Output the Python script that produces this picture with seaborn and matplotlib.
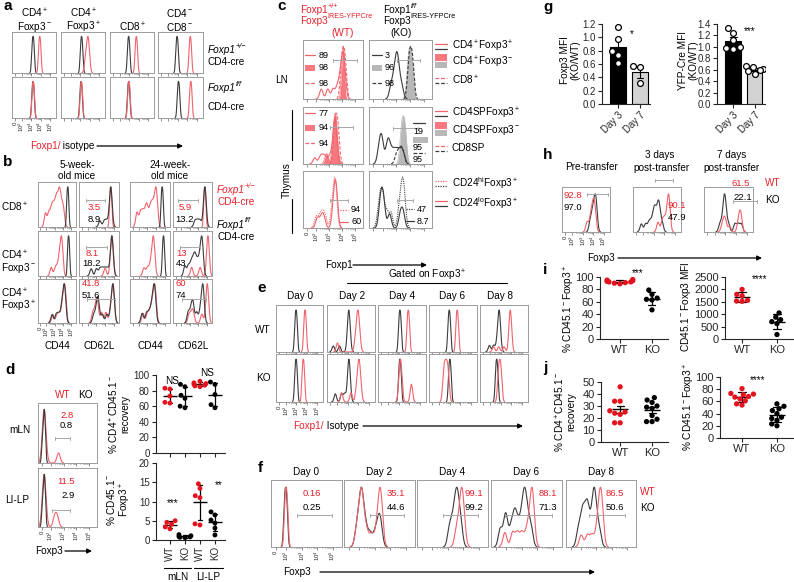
import numpy as np
import pandas as pd
import matplotlib
matplotlib.use("Agg")
import matplotlib.pyplot as plt
from matplotlib.patches import Rectangle
import seaborn as sns

sns.set_theme(style="ticks")
plt.rcParams["font.family"] = ["Liberation Sans", "DejaVu Sans"]
plt.rcParams["mathtext.fontset"] = "custom"
plt.rcParams["mathtext.rm"] = "Liberation Sans"
plt.rcParams["mathtext.it"] = "Liberation Sans:italic"
plt.rcParams["mathtext.bf"] = "Liberation Sans:bold"

W, H = 794, 582
RED = "#f0646c"
RED_TXT = "#e8202a"
DARK = "#3c3c3c"
FRAME = "#9c9c9c"
GATE = "#a8a8a8"
DOT_RED = "#e3121d"
FILL_RED = "#f8787f"
FILL_GREY = "#b8b8b8"

# flow histograms: events (log10 fluorescence)
# panel a, row-major (Foxp1+/- row, then Foxp1 f/f row)
a_iso = [
    [3.1, 3.2, 3.3], [3.05, 3.15, 3.25], [2.85, 2.95, 3.05], [2.85, 2.95, 3.05],
    [3.1, 3.2, 3.3], [3.0, 3.1, 3.2], [2.85, 2.95, 3.05], [3.0, 3.1, 3.2],
]
a_foxp1 = [
    [3.8, 3.9, 4.0], [3.55, 3.7, 3.8, 3.85, 3.95], [3.65, 3.75, 3.85], [4.2, 4.3, 4.4],
    [3.12, 3.22, 3.32], [3.03, 3.13, 3.23], [2.88, 2.98, 3.08], [4.25, 4.35, 4.45],
]

# panel b, rows CD8+, CD4+Foxp3-, CD4+Foxp3+ ; cols CD44, CD62L (5 wk), CD44, CD62L (24 wk)
b_red = [
    [1.9, 2.3, 2.6, 2.8, 3.0, 3.2, 3.3, 3.5, 3.6, 3.7, 3.9, 4.1],
    [4.55, 4.65, 4.75],
    [1.8, 2.2, 2.5, 2.8, 3.0, 3.3, 3.5, 3.7, 3.9, 4.0, 4.1],
    [4.65, 4.75, 4.85],
    [2.6, 3.1, 3.4, 3.6, 3.7, 3.8, 3.85, 3.9, 3.95],
    [4.0, 4.65, 4.75, 4.8, 4.85, 4.9, 4.75],
    [2.6, 3.0, 3.3, 3.5, 3.6, 3.65, 3.7, 3.75, 3.8],
    [3.2, 4.2, 5.05, 5.1, 5.15, 5.2, 5.1],
    [2.8, 3.3, 3.6, 3.9, 4.0, 4.1, 4.2, 4.25, 4.3, 4.35],
    [2.6, 2.9, 3.05, 3.15, 3.6, 4.1, 4.6, 4.8, 4.9, 4.95, 5.0],
    [2.5, 3.0, 3.3, 3.5, 3.65, 3.75, 3.85, 3.9, 3.95],
    [2.9, 3.2, 3.4, 4.4, 4.9, 5.0, 5.05, 5.1, 5.1],
]
b_black = [
    [4.5, 4.6, 4.7],
    [3.4, 3.9, 4.2, 4.55, 4.6, 4.65, 4.7, 4.75, 4.6, 4.7],
    [4.6, 4.7, 4.8],
    [3.6, 3.9, 4.2, 4.6, 4.7, 4.75, 4.8, 4.85, 4.75, 4.8],
    [4.6, 4.7, 4.8],
    [2.4, 3.0, 3.4, 3.7, 4.0, 4.3, 4.65, 4.75, 4.8, 4.85, 4.75, 4.8],
    [4.75, 4.85, 4.95],
    [2.4, 2.8, 3.1, 3.3, 3.5, 3.6, 3.8, 4.0, 4.2, 4.3, 4.4, 4.45, 4.5],
    [2.7, 3.2, 3.5, 3.8, 3.95, 4.05, 4.15, 4.2, 4.25, 4.3],
    [2.7, 3.0, 3.1, 3.2, 3.3, 3.7, 4.2, 4.6, 4.8, 4.85, 4.9, 4.95, 5.0],
    [2.4, 2.9, 3.2, 3.45, 3.6, 3.7, 3.8, 3.85, 3.9],
    [2.8, 3.1, 3.3, 3.4, 3.8, 4.2, 4.4, 4.5, 4.55, 4.6],
]

# panel c: LN and thymus SP rows = [Foxp3+ line, Foxp3- filled, CD8 dashed]; CD24 row = [hi dotted, lo solid]
c_wt = [
    [[2.4, 2.9, 3.3, 3.6, 3.8, 3.9, 4.0, 4.05, 4.1, 4.15, 4.2], [3.95, 4.05, 4.15, 4.1], [3.95, 4.1, 4.25]],
    [[1.9, 2.3, 2.5, 2.7, 3.0, 3.2, 3.35, 3.4, 3.45, 3.5, 3.55, 3.5, 3.45, 3.4],
     [2.8, 3.3, 3.4, 3.5, 3.6, 3.45, 3.5], [3.4, 3.55, 3.7]],
    [[2.0, 2.3, 2.5, 2.7, 3.2, 3.35, 3.4, 3.45, 3.5, 3.55], [2.1, 2.4, 2.6, 3.3, 3.4, 3.45, 3.5, 3.55, 3.6]],
]
c_ko = [
    [[2.6, 2.8, 2.9, 3.0, 3.05, 3.1, 3.2, 3.4], [3.85, 4.0, 4.15], [3.9, 4.05, 4.2]],
    [[1.7, 1.85, 1.9, 2.0, 2.3, 2.4, 2.5, 2.7, 2.9, 3.1, 3.3, 3.5], [3.35, 3.5, 3.65], [3.0, 3.2, 3.35, 3.5]],
    [[1.7, 1.85, 1.95, 2.05, 2.3, 2.6, 3.2, 3.35, 3.45, 3.5, 3.6], [1.8, 1.9, 2.0, 2.1, 2.5, 3.3, 3.5]],
]
c_wt_h = [[0.9, 1.0, 1.0], [0.9, 1.0, 1.0], [1.0, 0.95]]
c_ko_h = [[0.9, 1.0, 1.0], [0.6, 0.95, 0.35], [1.0, 0.8]]

# panel d histograms (mLN, LI-LP)
d_black = [[1.35, 1.45, 1.55, 1.5], [1.35, 1.45, 1.55, 1.5]]
d_red = [[1.38, 1.48, 1.58, 1.43, 1.53, 1.48, 2.6], [1.38, 1.48, 1.58, 1.43, 1.53, 1.48, 2.3, 2.5]]

# panel e: WT row Day 0..8, then KO row
e_iso = [
    [2.86, 2.96, 3.06],
    [1.6, 2.2, 3.0, 3.1, 3.2, 3.05, 3.15, 3.1, 3.0, 3.1],
    [3.0, 3.1, 3.2],
    [2.84, 2.94, 3.04],
    [1.9, 2.3, 2.6, 2.74, 2.84, 2.94, 2.8, 2.9, 2.85, 2.8],
    [2.86, 2.96, 3.06],
    [1.8, 2.4, 2.7, 3.0, 3.1, 3.2, 3.05, 3.15, 3.1],
    [3.0, 3.1, 3.2],
    [2.9, 3.0, 3.1],
    [2.5, 2.6, 2.7],
]
e_foxp1 = [
    [3.74, 3.84, 3.94],
    [2.0, 3.7, 3.85, 3.95, 4.05, 4.15, 4.0, 3.9],
    [3.8, 3.9, 4.0],
    [3.6, 3.7, 3.8],
    [2.3, 2.8, 3.3, 3.8, 3.9, 4.0, 3.85, 3.95, 3.9, 3.9, 3.95, 3.85],
    [3.57, 3.67, 3.77],
    [2.4, 3.3, 3.8, 3.95, 4.05, 4.15, 4.25, 4.1, 4.0],
    [3.05, 3.15, 3.25, 4.2],
    [2.4, 2.55, 2.7, 2.85],
    [2.75, 2.85, 2.95, 3.05],
]

# panel f, Day 0..8
f_black = [
    [1.85, 1.95, 2.05, 1.9, 2.0],
    [1.8, 1.95, 2.05, 2.1, 2.15, 2.2, 2.3, 2.45, 2.7, 3.0, 3.2, 3.3, 3.4],
    [3.1, 3.3, 3.45, 3.55, 3.6, 3.7, 3.85],
    [1.6, 1.9, 2.0, 2.3, 2.5, 2.6, 2.8, 3.0, 3.1, 3.2, 3.25, 3.4, 3.6],
    [1.8, 2.0, 2.1, 2.2, 2.35, 2.4, 2.5, 2.7, 2.8, 2.85, 2.9, 3.0, 3.2],
]
f_red = [
    [1.88, 1.98, 2.08, 1.93, 2.03],
    [1.8, 1.95, 2.05, 2.1, 2.15, 2.2, 2.3, 2.5, 2.8, 3.1, 3.25, 3.3, 3.35, 3.4, 3.45],
    [3.55, 3.75, 3.85, 3.9, 3.95, 4.05],
    [1.9, 2.4, 2.7, 3.0, 3.3, 3.5, 3.6, 3.65, 3.7, 3.75],
    [2.0, 2.4, 2.7, 3.0, 3.15, 3.2, 3.25, 3.3, 3.35, 3.4],
]

# panel h: pre-transfer, 3 days, 7 days
h_black = [
    [3.7, 3.9, 4.0, 4.1, 4.2, 4.25, 4.3],
    [1.8, 2.2, 2.5, 2.7, 2.9, 3.0, 3.1, 3.15, 3.3, 3.4, 3.45, 3.5, 3.6, 3.8],
    [2.5, 2.75, 2.85, 2.9, 2.95, 3.0, 3.05, 3.3, 3.9, 4.2, 4.5],
]
h_red = [
    [3.4, 3.7, 3.85, 3.95, 4.05, 4.1, 4.2],
    [3.4, 3.8, 4.0, 4.2, 4.35, 4.4, 4.45, 4.5],
    [2.7, 2.85, 2.95, 3.05, 3.4, 4.2, 4.3, 4.4, 4.45, 4.5],
]
h_black_h = [0.95, 0.8, 0.95]
h_red_h = [0.85, 0.95, 0.55]

# dot plots / bars
d_rec = [[83, 82, 73, 65, 64], [88, 85, 74, 70, 60, 58], [92, 90, 88, 87, 86, 85, 89], [91, 88, 75, 62, 58]]
d_foxp3 = [[5.0, 4.6, 4.1, 3.4, 2.9], [1.4, 1.1, 0.9, 0.8, 0.7, 0.6],
           [14.6, 13.4, 11.5, 11.0, 4.2, 3.9], [7.3, 6.5, 5.2, 4.4, 3.1, 1.3]]
g_foxp3 = [[1.16, 0.98, 0.79, 0.74, 0.62], [0.57, 0.56, 0.31]]
g_yfp = [[1.33, 1.25, 1.12, 1.0, 0.96, 0.98], [0.66, 0.65, 0.62, 0.6, 0.52, 0.57]]
i_pct = [[96, 95, 94, 93, 92, 91, 90, 92, 89], [79, 72, 66, 64, 63, 47]]
i_mfi = [[2000, 1800, 1740, 1560, 1520, 1530], [1050, 880, 780, 700, 620, 180]]
j_rec = [[46, 34, 34, 26, 25, 24, 23, 16, 16], [37, 35, 33, 30, 29, 28, 22, 19, 17, 17]]
j_pct = [[81, 73, 72, 71, 68, 67, 64, 61, 56, 54], [56, 52, 48, 45, 40, 34, 32, 29, 23, 20]]

fig = plt.figure(figsize=(W / 100, H / 100), dpi=100)

LO, HI = 1.0, 5.6
MAJOR = [1.3, 2, 3, 4, 5]
MINOR = [np.log10(m * 10 ** k) for k in (2, 3, 4) for m in range(2, 10)]


def rect(x0, y0, x1, y1):
    return [x0 / W, 1 - y1 / H, (x1 - x0) / W, (y1 - y0) / H]


def fbox(x0, y0, x1, y1, labels=False):
    ax = fig.add_axes(rect(x0, y0, x1, y1))
    for sp in ax.spines.values():
        sp.set_color(FRAME)
        sp.set_linewidth(0.7)
    ax.set_yticks([])
    ax.set_xticks(MAJOR)
    ax.set_xticks(MINOR, minor=True)
    ax.tick_params(axis="x", which="both", length=1.8, width=0.5, color="#666666",
                   pad=0.5, labelsize=4.3, labelrotation=90)
    ax.tick_params(axis="x", which="minor", length=1.0)
    ax.set_xticklabels(["0", "10$^2$", "10$^3$", "10$^4$", "10$^5$"] if labels else [])
    ax.set_xlim(LO, HI)
    ax.set_ylim(0, 1.12)
    return ax


def curve(ax, ev, color, ls="-", h=1.0, bw=0.13, fill=None, lw=0.8):
    sd = np.std(ev, ddof=1)
    width = min(bw, 0.8 * sd)
    sns.kdeplot(x=ev, ax=ax, bw_method=width / sd, clip=(LO, HI),
                gridsize=250, color=color, linestyle=ls, linewidth=lw)
    ln = ax.lines[-1]
    y = np.asarray(ln.get_ydata())
    ln.set_ydata(y / y.max() * h)
    if fill:
        ax.fill_between(ln.get_xdata(), ln.get_ydata(), color=fill, linewidth=0, zorder=1)
    ax.set_xlim(LO, HI)
    ax.set_ylim(0, 1.12)
    ax.set_xlabel("")
    ax.set_ylabel("")


# ---- a ----
a_cols = [(12, 56), (61, 105), (110, 154), (158, 203)]
a_rows = [(32, 73), (77, 118)]
for i in range(8):
    r, c = divmod(i, 4)
    ax = fbox(a_cols[c][0], a_rows[r][0], a_cols[c][1], a_rows[r][1], labels=(i == 4))
    curve(ax, a_iso[i], DARK)
    curve(ax, a_foxp1[i], RED)

# ---- b ----
b_cols = [(38, 76), (79, 119), (130, 170), (173, 212)]
b_rows = [(182, 227), (231, 276), (279, 323)]
for i in range(12):
    r, c = divmod(i, 4)
    ax = fbox(b_cols[c][0], b_rows[r][0], b_cols[c][1], b_rows[r][1], labels=(i == 8))
    curve(ax, b_red[i], RED, bw=0.15)
    curve(ax, b_black[i], DARK, bw=0.15)

# ---- c ----
c_cols = [(303, 363), (369, 432)]
c_rows = [(40, 99), (107, 164), (171, 228)]
DASH = (0, (3, 1.5))
DOT = (0, (1, 1))
for col, (cv, hts, lc, fc) in enumerate([(c_wt, c_wt_h, RED, FILL_RED), (c_ko, c_ko_h, DARK, FILL_GREY)]):
    for r in range(3):
        ax = fbox(c_cols[col][0], c_rows[r][0], c_cols[col][1], c_rows[r][1], labels=(r == 2 and col == 0))
        if r < 2:
            curve(ax, cv[r][1], fc, h=hts[r][1], fill=fc, lw=0.5)
            curve(ax, cv[r][0], lc, h=hts[r][0])
            curve(ax, cv[r][2], lc, ls=DASH, h=hts[r][2])
        else:
            curve(ax, cv[r][0], lc, ls=DOT, h=hts[r][0])
            curve(ax, cv[r][1], lc, h=hts[r][1])

# ---- d histograms ----
for k, (y0, y1) in enumerate([(403, 463), (468, 527)]):
    ax = fbox(38, y0, 97, y1, labels=(k == 1))
    curve(ax, d_red[k], RED)
    curve(ax, d_black[k], DARK)

# ---- e ----
e_cols = [(276, 323), (327, 375), (378, 426), (429, 477), (480, 528)]
e_rows = [(305, 352), (354, 402)]
for i in range(10):
    r, c = divmod(i, 5)
    ax = fbox(e_cols[c][0], e_rows[r][0], e_cols[c][1], e_rows[r][1], labels=(i == 5))
    curve(ax, e_iso[i], DARK, bw=0.12)
    curve(ax, e_foxp1[i], RED, bw=0.12)

# ---- f ----
f_cols = [(271, 342), (344, 415), (417, 488), (491, 562), (566, 636)]
for i in range(5):
    ax = fbox(f_cols[i][0], 480, f_cols[i][1], 547, labels=(i == 0))
    curve(ax, f_black[i], DARK)
    curve(ax, f_red[i], RED)

# ---- h ----
h_cols = [(562, 610), (633, 681), (704, 753)]
for i in range(3):
    ax = fbox(h_cols[i][0], 187, h_cols[i][1], 232, labels=(i == 0))
    curve(ax, h_black[i], DARK, h=h_black_h[i])
    curve(ax, h_red[i], RED, h=h_red_h[i])


# ---- dot plots ----
def sax(x0, y0, x1, y1, size=7):
    ax = fig.add_axes(rect(x0, y0, x1, y1))
    sns.despine(ax=ax)
    for sp in ("left", "bottom"):
        ax.spines[sp].set_linewidth(0.8)
    ax.tick_params(length=3, width=0.8, labelsize=size, pad=1.5)
    return ax


def dots(ax, groups, values, colors, err, size=3.8, msize=12):
    df = pd.DataFrame({"g": np.repeat(groups, [len(v) for v in values]),
                       "v": np.concatenate(values)})
    sns.swarmplot(data=df, x="g", y="v", hue="g", order=groups, hue_order=groups,
                  palette=dict(zip(groups, colors)), size=size, ax=ax, legend=False)
    sns.pointplot(data=df, x="g", y="v", order=groups, errorbar=err, color="black",
                  markers="_", markersize=msize, markeredgewidth=1.0, capsize=0.22,
                  linestyle="none", err_kws={"linewidth": 0.9}, ax=ax)
    ax.set_xlabel("")
    ax.set_ylabel("")


groups4 = ["WT_m", "KO_m", "WT_l", "KO_l"]
cols4 = [DOT_RED, "black", DOT_RED, "black"]
ax = sax(156, 375, 225, 453)
dots(ax, groups4, d_rec, cols4, "sd", size=3.5, msize=10)
ax.set_ylim(0, 100)
ax.set_yticks([0, 20, 40, 60, 80, 100])
ax.set_xlim(-0.93, 3.67)
ax.set_xticklabels([])

ax = sax(156, 463, 225, 540)
dots(ax, groups4, d_foxp3, cols4, "sd", size=3.5, msize=10)
ax.set_ylim(0, 20)
ax.set_yticks([0, 5, 10, 15, 20])
ax.set_xlim(-0.93, 3.67)
ax.set_xticks([0, 1, 2, 3])
ax.set_xticklabels(["WT", "KO", "WT", "KO"], rotation=90)


def bars(ax, vals):
    df = pd.DataFrame({"day": ["Day 3"] * len(vals[0]) + ["Day 7"] * len(vals[1]),
                       "v": vals[0] + vals[1]})
    sns.barplot(data=df, x="day", y="v", hue="day", palette=["black", "#d3d3d3"], errorbar="se",
                capsize=0.3, width=0.74, edgecolor="black", linewidth=0.8,
                err_kws={"color": "black", "linewidth": 0.8}, legend=False, ax=ax)
    sns.swarmplot(data=df, x="day", y="v", color="white", edgecolor="black", linewidth=0.9,
                  size=4.2, ax=ax)
    ax.set_xlabel("")
    ax.set_ylabel("")
    ax.set_xticks([0, 1])
    ax.set_xticklabels(["Day 3", "Day 7"], rotation=45, ha="right", rotation_mode="anchor")


ax = sax(602, 24, 650, 104)
bars(ax, g_foxp3)
ax.set_ylim(0, 1.2)
ax.set_yticks(np.arange(0, 1.21, 0.2))
ax.set_yticklabels(["0.0", "0.2", "0.4", "0.6", "0.8", "1.0", "1.2"])
ax.set_xlim(-0.73, 1.45)

ax = sax(717, 24, 765, 104)
bars(ax, g_yfp)
ax.set_ylim(0, 1.4)
ax.set_yticks(np.arange(0, 1.41, 0.2))
ax.set_yticklabels(["0.0", "0.2", "0.4", "0.6", "0.8", "1.0", "1.2", "1.4"])
ax.set_xlim(-0.77, 1.49)

wk = ["WT", "KO"]
wk_cols = [DOT_RED, "black"]
ax = sax(600, 277, 668, 339, size=8)
dots(ax, wk, i_pct, wk_cols, "sd")
ax.set_ylim(0, 100)
ax.set_yticks([0, 20, 40, 60, 80, 100])
ax.set_xlim(-0.62, 1.5)

ax = sax(725, 277, 793, 339, size=8)
dots(ax, wk, i_mfi, wk_cols, "sd")
ax.set_ylim(0, 2500)
ax.set_yticks([0, 500, 1000, 1500, 2000, 2500])
ax.set_xlim(-0.49, 1.46)

ax = sax(601, 382, 668, 442, size=8)
dots(ax, wk, j_rec, wk_cols, "se")
ax.set_ylim(0, 50)
ax.set_yticks([0, 10, 20, 30, 40, 50])
ax.set_xlim(-0.6, 1.5)

ax = sax(720, 377, 793, 438, size=8)
dots(ax, wk, j_pct, wk_cols, "sd")
ax.set_ylim(0, 100)
ax.set_yticks([0, 20, 40, 60, 80, 100])
ax.set_xlim(-0.63, 1.46)

# ---- overlay for texts, gates, arrows ----
bg = fig.add_axes([0, 0, 1, 1], zorder=10)
bg.set_xlim(0, W)
bg.set_ylim(H, 0)
bg.set_facecolor("none")
bg.axis("off")


def t(x, y, s, size=7.2, color="black", ha="left", **kw):
    return bg.text(x, y, s, fontsize=size, color=color, ha=ha, va="center", **kw)


def sup(base, s, size=5.2, color="black", **kw):
    return bg.annotate(s, xy=(1, 0.55), xycoords=base, fontsize=size, color=color,
                       ha="left", va="bottom", **kw)


def after(base, s, size=7.2, color="black"):
    return bg.annotate(s, xy=(1, 0.5), xycoords=base, fontsize=size, color=color,
                       ha="left", va="center")


def gate(x0, x1, y):
    bg.plot([x0, x1], [y, y], color=GATE, lw=0.7)
    bg.plot([x0, x0], [y - 1.5, y + 1.5], color=GATE, lw=0.7)
    bg.plot([x1, x1], [y - 1.5, y + 1.5], color=GATE, lw=0.7)


def arrow(x0, x1, y):
    bg.annotate("", xy=(x1, y), xytext=(x0, y),
                arrowprops=dict(arrowstyle="-|>", color="black", lw=0.9, mutation_scale=7,
                                shrinkA=0, shrinkB=0))


def swatch(x0, x1, y, kind, color):
    if kind == "fill":
        bg.add_patch(Rectangle((x0, y - 3), x1 - x0, 6, color=color, lw=0))
    else:
        ls = {"solid": "-", "dash": DASH, "dot": DOT}[kind]
        bg.plot([x0, x1], [y, y], color=color, lw=0.9, linestyle=ls)


for x, y, s in [(3, 6, "a"), (3, 162, "b"), (277, 6, "c"), (5, 370, "d"), (257, 288, "e"),
                (258, 468, "f"), (543, 7, "g"), (543, 155, "h"), (543, 270, "i"), (543, 368, "j")]:
    t(x, y, s, size=11, weight="bold")

# a texts
for x, l1, l2 in [(34, "CD4$^+$", "Foxp3$^-$"), (83, "CD4$^+$", "Foxp3$^+$"),
                  (132, None, "CD8$^+$"), (180, "CD4$^-$", "CD8$^-$")]:
    if l1:
        t(x, 13, l1, ha="center")
    t(x, 27, l2, ha="center")
sup(t(208, 50, "Foxp1", style="italic"), "+/\u2212", style="italic")
t(208, 62, "CD4-cre")
sup(t(208, 88, "Foxp1", style="italic"), "f/f", style="italic")
t(208, 107, "CD4-cre")
after(t(30, 146, "Foxp1/", color=RED_TXT), " isotype")
arrow(97, 183, 146)

# b texts
t(77, 165, "5-week-", ha="center")
t(77, 176, "old mice", ha="center")
t(170, 165, "24-week-", ha="center")
t(170, 176, "old mice", ha="center")
t(1, 207, "CD8$^+$")
t(1, 255, "CD4$^+$")
t(1, 268, "Foxp3$^-$")
t(1, 293, "CD4$^+$")
t(1, 306, "Foxp3$^+$")
for x, s in [(57, "CD44"), (99, "CD62L"), (150, "CD44"), (193, "CD62L")]:
    t(x, 346, s, ha="center")
sup(t(217, 190, "Foxp1", color=RED_TXT, style="italic"), "+/\u2212", color=RED_TXT, style="italic")
t(217, 202, "CD4-cre", color=RED_TXT)
sup(t(217, 225, "Foxp1", style="italic"), "f/f", style="italic")
t(217, 237, "CD4-cre")
for x, y, s1, s2, g0, g1, gy in [(88, 208, "3.5", "8.9", 86, 105, 200),
                                  (179, 208, "5.9", "13.2", 178, 198, 200),
                                  (86, 253, "8.1", "18.2", 86, 107, 247),
                                  (176, 253, "13", "43", 180, 200, 247),
                                  (82, 284, "41.8", "51.6", 87, 115, 299),
                                  (175, 284, "60", "74", 182, 206, 299)]:
    t(x, y, s1, size=6.8, color=RED_TXT)
    t(x - (4 if len(s2) > len(s1) else 0), y + 11, s2, size=6.8)
    gate(g0, g1, gy)

# c texts
sup(t(300, 10, "Foxp1", color=RED_TXT), "+/+", color=RED_TXT)
sup(t(300, 21, "Foxp3", color=RED_TXT), "IRES-YFPCre", color=RED_TXT)
t(343, 33, "(WT)", color=RED_TXT, ha="center")
sup(t(383, 10, "Foxp1"), "f/f", style="italic")
sup(t(383, 21, "Foxp3"), "IRES-YFPCre")
t(401, 33, "(KO)", ha="center")
t(275, 80, "LN")
t(287, 180, "Thymus", ha="center", rotation=90)
bg.plot([292, 292], [110, 160], color="black", lw=0.8)
bg.plot([292, 292], [199, 233], color="black", lw=0.8)
t(325, 265, "Foxp1")
arrow(353, 427, 265)
for y, kind, s in [(55, "solid", "89"), (68, "fill", "98"), (83, "dash", "98")]:
    swatch(305, 315, y, kind, FILL_RED if kind == "fill" else RED)
    t(319, y, s, size=6.5)
for y, kind, s in [(55, "solid", "3"), (68, "fill", "96"), (83, "dash", "98")]:
    swatch(372, 382, y, kind, FILL_GREY if kind == "fill" else DARK)
    t(385, y, s, size=6.5)
for y, kind, s in [(113, "solid", "77"), (128, "fill", "94"), (143, "dash", "94")]:
    swatch(305, 315, y, kind, FILL_RED if kind == "fill" else RED)
    t(319, y, s, size=6.5)
swatch(413, 425, 123, "solid", DARK)
t(413, 131, "19", size=6.5)
swatch(413, 428, 140, "fill", FILL_GREY)
t(413, 148, "95", size=6.5)
swatch(413, 425, 153, "dash", DARK)
t(413, 160, "95", size=6.5)
swatch(340, 348, 210, "dot", RED)
t(351, 210, "94", size=6.5)
swatch(340, 348, 222, "solid", RED)
t(351, 222, "60", size=6.5)
swatch(406, 414, 209, "dot", DARK)
t(417, 209, "47", size=6.5)
swatch(406, 414, 221, "solid", DARK)
t(417, 221, "8.7", size=6.5)
for g0, g1, gy in [(333, 357, 60), (397, 420, 60), (330, 353, 127), (393, 418, 128),
                   (330, 348, 200), (397, 413, 200)]:
    gate(g0, g1, gy)
# c legend
for y, kind, s in [(46, "solid", "CD4$^+$Foxp3$^+$"), (62, "fill", "CD4$^+$Foxp3$^-$"),
                   (80, "dash", "CD8$^+$"), (113, "solid", "CD4SPFoxp3$^+$"),
                   (130, "fill", "CD4SPFoxp3$^-$"), (148, "dash", "CD8SP"),
                   (183, "dot", "CD24$^{\\mathrm{hi}}$Foxp3$^+$"), (203, "solid", "CD24$^{\\mathrm{lo}}$Foxp3$^+$")]:
    if kind == "fill":
        bg.add_patch(Rectangle((435, y - 8), 12, 7, color=FILL_RED, lw=0))
        bg.add_patch(Rectangle((435, y), 12, 6, color=FILL_GREY, lw=0))
    else:
        swatch(435, 447, y - 2.5, kind, RED)
        swatch(435, 447, y + 2.5, kind, DARK)
    t(452, y, s)

# d texts
t(55, 395, "WT", color=RED_TXT)
t(78, 395, "KO")
t(9, 430, "mLN")
t(5, 500, "LI-LP")
t(60, 415, "2.8", size=6.8, color=RED_TXT)
t(60, 425, "0.8", size=6.8)
gate(55, 70, 438)
t(57, 481, "11.5", size=6.8, color=RED_TXT)
t(61, 495, "2.9", size=6.8)
gate(52, 70, 510)
t(35, 551, "Foxp3")
arrow(65, 92, 551)
t(119, 414, "% CD4$^+$CD45.1$^-$\nrecovery", ha="center", rotation=90, linespacing=1.0)
t(119, 500, "% CD45.1$^-$\nFoxp3$^+$", ha="center", rotation=90, linespacing=1.0)
t(172, 381, "NS", ha="center")
t(207, 373, "NS", ha="center")
t(173, 503, "***", ha="center")
t(219, 485, "**", ha="center")
bg.plot([164, 191], [568, 568], color="black", lw=0.8)
bg.plot([194, 223], [568, 568], color="black", lw=0.8)
t(178, 577, "mLN", ha="center")
t(208, 577, "LI-LP", ha="center")

# e texts
t(427, 275, "Gated on Foxp3$^+$", ha="center")
bg.plot([347, 507], [283, 283], color="black", lw=0.8)
for x, s in zip([300, 352, 402, 452, 500], ["Day 0", "Day 2", "Day 4", "Day 6", "Day 8"]):
    t(x, 296, s, ha="center")
t(263, 330, "WT", ha="center")
t(263, 378, "KO", ha="center")
after(t(293, 426, "Foxp1/", color=RED_TXT), " Isotype")
arrow(363, 523, 426)

# f texts
for x, s in zip([306, 379, 452, 526, 601], ["Day 0", "Day 2", "Day 4", "Day 6", "Day 8"]):
    t(x, 472, s, ha="center")
for x, ha, s1, s2, g0, g1 in [(312, "center", "0.16", "0.25", 297, 332),
                              (405, "right", "35.1", "44.6", 370, 404),
                              (483, "right", "99.1", "99.2", 443, 478),
                              (557, "right", "88.1", "71.3", 505, 552),
                              (606, "left", "86.5", "50.6", 589, 625)]:
    t(x, 494, s1, size=6.8, color=RED_TXT, ha=ha)
    t(x, 507, s2, size=6.8, ha=ha)
    gate(g0, g1, 515)
t(640, 492, "WT", color=RED_TXT)
t(640, 508, "KO")
t(283, 572, "Foxp3")
arrow(320, 595, 572)

# g texts
t(570, 60, "Foxp3 MFI\n(KO/WT)", ha="center", rotation=90, linespacing=1.0)
t(688, 60, "YFP-Cre MFI\n(KO/WT)", ha="center", rotation=90, linespacing=1.0)
t(632, 34, "*", ha="center")
t(750, 31, "***", ha="center")

# h texts
t(591, 167, "Pre-transfer", ha="center")
t(660, 155, "3 days", ha="center")
t(661, 168, "post-transfer", ha="center")
t(732, 155, "7 days", ha="center")
t(731, 168, "post-transfer", ha="center")
t(564, 196, "92.8", size=6.8, color=RED_TXT)
t(564, 208, "97.0", size=6.8)
gate(587, 608, 194)
t(668, 206, "90.1", size=6.8, color=RED_TXT)
t(668, 217, "47.9", size=6.8)
gate(655, 673, 180)
t(732, 183, "61.5", size=6.8, color=RED_TXT)
t(733, 198, "22.1", size=6.8)
gate(733, 757, 201)
t(765, 183, "WT", color=RED_TXT)
t(765, 200, "KO")
t(587, 258, "Foxp3")
arrow(618, 762, 258)

# i / j texts
t(569, 309, "% CD45.1$^-$Foxp3$^+$", size=7.3, ha="center", rotation=90)
t(686, 307, "CD45.1$^-$Foxp3 MFI", size=7.3, ha="center", rotation=90)
t(565, 412, "% CD4$^+$CD45.1$^-$\nrecovery", size=7.3, ha="center", rotation=90, linespacing=1.0)
t(689, 407, "% CD45.1$^-$Foxp3$^+$", size=7.3, ha="center", rotation=90)
t(638, 273, "***", ha="center")
t(760, 279, "****", ha="center")
t(758, 380, "****", ha="center")

fig.savefig("out.png", dpi=100)
